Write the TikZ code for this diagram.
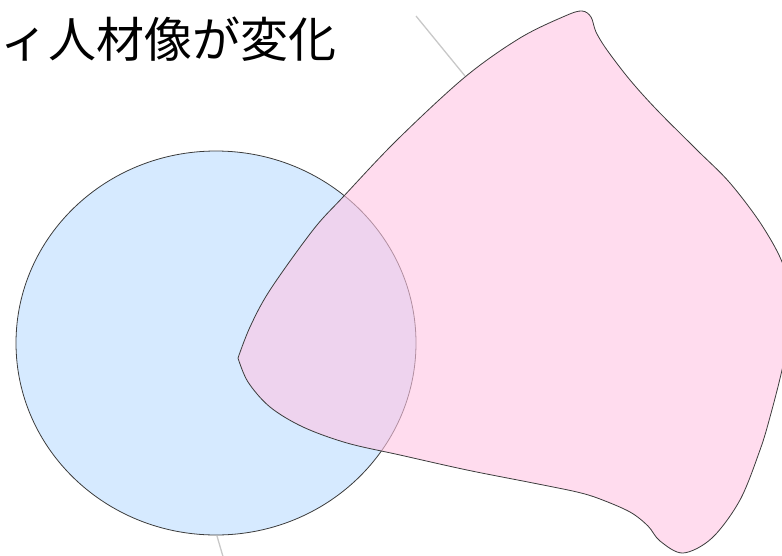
\documentclass[tikz,border=0pt]{standalone}
\usepackage{fontspec}
\newfontfamily\jpfont{Noto Sans CJK JP}
\definecolor{circblue}{RGB}{214,234,255}
\definecolor{blobpink}{RGB}{255,197,227}
\definecolor{edgegray}{RGB}{60,60,60}
\definecolor{leadgray}{RGB}{200,200,200}
\tikzset{
  circstyle/.style={fill=circblue, draw=edgegray, line width=0.8pt},
  blobstyle/.style={fill=blobpink, fill opacity=0.6, draw=edgegray, draw opacity=1, line width=0.8pt},
  leader/.style={draw=leadgray, line width=1.3pt},
  titletext/.style={font=\jpfont\fontsize{48}{58}\selectfont, inner sep=0pt, anchor=base west}
}
\begin{document}
\begin{tikzpicture}[x=1pt,y=-1pt]
\useasboundingbox (0,0) rectangle (782,555);
\clip (0,0) rectangle (782,555);
\node[titletext] (title) at (0,57) {ィ人材像が変化};
\coordinate (l1a) at (416,16);
\coordinate (l1b) at (465,76);
\coordinate (l2a) at (217,536);
\coordinate (l2b) at (224,560);
\draw[leader] (l1a) -- (l1b);
\draw[leader] (l2a) -- (l2b);
\draw[circstyle] (216,343) ellipse [x radius=200pt, y radius=192pt];
\draw[blobstyle] plot[smooth, tension=0.55] coordinates {(238,358) (250,327) (270,290) (313,230) (343,197) (397,140) (465,77) (520,38) (565,16) (582,11) (591,17) (596,32) (607,50) (630,80) (657,110) (697,150) (730,183) (763,227) (785,270) (792,320) (782,370) (770,417) (760,450) (740,500) (712,538) (683,553) (660,541) (648,526) (630,512) (600,499) (577,492) (533,483) (467,470) (400,455) (347,443) (303,427) (270,407) (248,382) (238,358)} -- cycle;
\end{tikzpicture}
\end{document}
